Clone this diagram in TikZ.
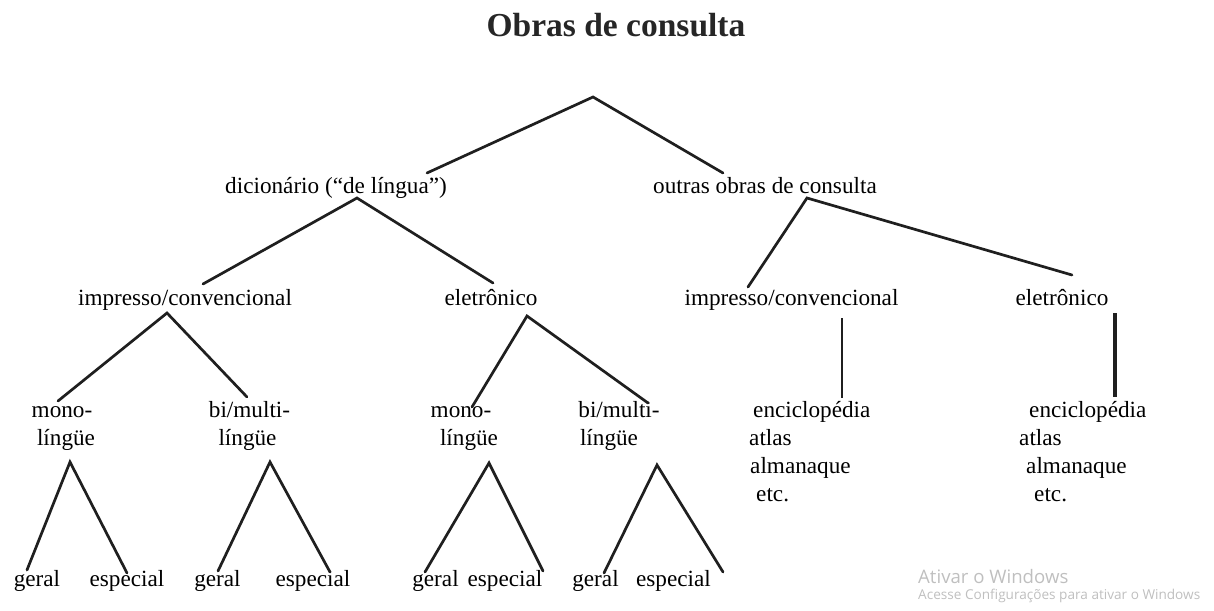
\documentclass[tikz,border=0pt]{standalone}
\usepackage{fontspec}
\setmainfont{Liberation Serif}
\newfontfamily\wmfont{Open Sans}
\usepackage{tikz}
\tikzset{>=latex}
\tikzset{
  txt/.style={inner sep=0pt, anchor=base, font=\fontsize{23.2}{27}\selectfont},
  txtl/.style={txt, anchor=base west},
  ln/.style={line width=2.7pt, color=black!88, line cap=round},
}

\begin{document}
\begin{tikzpicture}[x=1pt, y=-1pt]
  \useasboundingbox (0,0) rectangle (1214,610);

  \node (title) at (616,37) [inner sep=0pt, anchor=base, font=\fontsize{33.5}{38}\bfseries\selectfont, color=black!85] {Obras de consulta};

  % first level
  \coordinate (root) at (593,97);
  \node (dic) at (336,193) [txt] {dicionário (“de língua”)};
  \node (out) at (765,193) [txt] {outras obras de consulta};
  \draw[ln] ([shift={(91,-20)}]dic.base) -- (root) -- ([shift={(-42,-20)}]out.base);

  % second level
  \node (imp1) at (185,305) [txt] {impresso/convencional};
  \node (ele1) at (491,305) [txt] {eletrônico};
  \node (imp2) at (791.5,305) [txt] {impresso/convencional};
  \node (ele2) at (1062,305) [txt] {eletrônico};
  \draw[ln] ([shift={(18,-21)}]imp1.base) -- ([shift={(21,5)}]dic.base) -- ([shift={(2,-22)}]ele1.base);
  \draw[ln] ([shift={(-43.5,-18)}]imp2.base) -- ([shift={(42,5)}]out.base) -- ([shift={(10,-30)}]ele2.base);

  % third level
  \node (mono1) at (62,417) [txt] {mono-};
  \node (ling1) at (66,445) [txt] {língüe};
  \node (bi1) at (249.5,417) [txt] {bi/multi-};
  \node (ling2) at (247.5,445) [txt] {língüe};
  \node (mono2) at (461,417) [txt] {mono-};
  \node (ling3) at (469,445) [txt] {língüe};
  \node (bi2) at (619,417) [txt] {bi/multi-};
  \node (ling4) at (609,445) [txt] {língüe};
  \draw[ln] ([shift={(-4,-16)}]mono1.base) -- ([shift={(-18,8)}]imp1.base) -- ([shift={(-2.5,-20)}]bi1.base);
  \draw[ln] ([shift={(11,-10)}]mono2.base) -- ([shift={(36,11)}]ele1.base) -- ([shift={(29,-14)}]bi2.base);

  % lists
  \node (enc1) at (753,417) [txtl] {enciclopédia};
  \node (atl1) at (749,445) [txtl] {atlas};
  \node (alm1) at (750,473) [txtl] {almanaque};
  \node (etc1) at (756,501) [txtl] {etc.};
  \node (enc2) at (1029,417) [txtl] {enciclopédia};
  \node (atl2) at (1019,445) [txtl] {atlas};
  \node (alm2) at (1026,473) [txtl] {almanaque};
  \node (etc2) at (1034,501) [txtl] {etc.};
  \draw[ln, line cap=butt] ([shift={(50.5,13)}]imp2.base) -- ([shift={(89,-19)}]enc1.base west);
  \draw[ln, line cap=butt, line width=3.7pt] ([shift={(53,8)}]ele2.base) -- ([shift={(86,-20)}]enc2.base west);

  % fourth level
  \node (ger1) at (37,586) [txt] {geral};
  \node (esp1) at (127,586) [txt] {especial};
  \node (ger2) at (217.5,586) [txt] {geral};
  \node (esp2) at (313,586) [txt] {especial};
  \node (ger3) at (435.5,586) [txt] {geral};
  \node (esp3) at (505,586) [txt] {especial};
  \node (ger4) at (595.5,586) [txt] {geral};
  \node (esp4) at (673.5,586) [txt] {especial};
  \draw[ln] ([shift={(-10,-16)}]ger1.base) -- ([shift={(4,17)}]ling1.base) -- ([shift={(0,-13)}]esp1.base);
  \draw[ln] ([shift={(0.5,-15)}]ger2.base) -- ([shift={(22.5,17)}]ling2.base) -- ([shift={(17,-14)}]esp2.base);
  \draw[ln] ([shift={(-10.5,-14)}]ger3.base) -- ([shift={(20,18)}]ling3.base) -- ([shift={(38,-15)}]esp3.base);
  \draw[ln] ([shift={(8.5,-13)}]ger4.base) -- ([shift={(48,20)}]ling4.base) -- ([shift={(49.5,-14)}]esp4.base);

  % watermark
  \node (wm1) at (918,583) [inner sep=0pt, anchor=base west, font=\wmfont\fontsize{18.6}{22}\selectfont, color=black!25] {Ativar o Windows};
  \node (wm2) at (918,599) [inner sep=0pt, anchor=base west, font=\wmfont\fontsize{13.6}{16}\selectfont, color=black!25] {Acesse Configurações para ativar o Windows};
\end{tikzpicture}
\end{document}
